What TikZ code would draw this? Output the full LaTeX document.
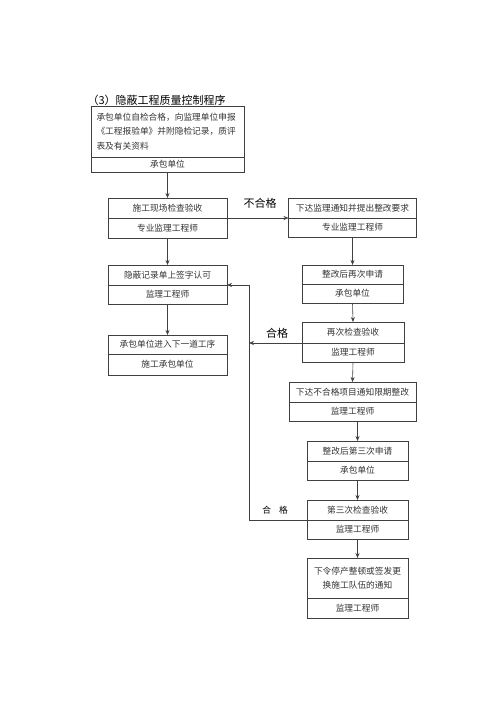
\documentclass[tikz,border=0pt]{standalone}
\usepackage{fontspec}
\newfontfamily\cjk{Noto Sans CJK SC}
\usetikzlibrary{arrows.meta,positioning}

\begin{document}
\begin{tikzpicture}[x=1pt,y=-1pt,
    box/.style={draw=black!75,line width=0.6pt,inner sep=0pt,outer sep=0pt,
                text=black!80,font=\cjk\fontsize{8.7}{10}\selectfont},
    flow/.style={draw=black!75,line width=0.6pt,-{Stealth[length=5pt,width=4pt]}},
    lbl/.style={font=\cjk\fontsize{11}{13}\selectfont}]
\useasboundingbox (0,0) rectangle (500,708);

\node[anchor=west,font=\cjk\fontsize{11}{13}\selectfont] (biaoti) at (84,100) {（3）隐蔽工程质量控制程序};

% left column
\node[box,minimum width=153pt,minimum height=51pt,text width=142pt,align=left,
      font=\cjk\fontsize{8.7}{14.5}\selectfont] (shenbao) at (167.5,131.5)
     {承包单位自检合格，向监理单位申报\\《工程报验单》并附隐检记录，质评\\表及有关资料};
\node[box,minimum width=153pt,minimum height=15pt,below=0pt of shenbao] (shenbao-b) {承包单位};

\node[box,minimum width=119pt,minimum height=20pt] (jianyan) at (167.5,208) {施工现场检查验收};
\node[box,minimum width=119pt,minimum height=20pt,below=0pt of jianyan] (jianyan-b) {专业监理工程师};

\node[box,minimum width=119pt,minimum height=20pt] (qianzi) at (167.5,275) {隐蔽记录单上签字认可};
\node[box,minimum width=119pt,minimum height=19pt,below=0pt of qianzi] (qianzi-b) {监理工程师};

\node[box,minimum width=119pt,minimum height=19pt] (jinru) at (167.5,344.5) {承包单位进入下一道工序};
\node[box,minimum width=119pt,minimum height=21pt,below=0pt of jinru] (jinru-b) {施工承包单位};

% right column
\node[box,minimum width=128pt,minimum height=20pt] (tongzhi) at (352.5,208) {下达监理通知并提出整改要求};
\node[box,minimum width=128pt,minimum height=19pt,below=0pt of tongzhi] (tongzhi-b) {专业监理工程师};

\node[box,minimum width=101pt,minimum height=19pt] (zaishen) at (352.5,274.5) {整改后再次申请};
\node[box,minimum width=101pt,minimum height=19pt,below=0pt of zaishen] (zaishen-b) {承包单位};

\node[box,minimum width=102pt,minimum height=21pt] (zaijian) at (353,332.5) {再次检查验收};
\node[box,minimum width=102pt,minimum height=19pt,below=0pt of zaijian] (zaijian-b) {监理工程师};

\node[box,minimum width=127pt,minimum height=20pt] (xianqi) at (352.5,392) {下达不合格项目通知限期整改};
\node[box,minimum width=127pt,minimum height=19pt,below=0pt of xianqi] (xianqi-b) {监理工程师};

\node[box,minimum width=101pt,minimum height=20pt] (sanshen) at (357.5,451) {整改后第三次申请};
\node[box,minimum width=101pt,minimum height=19pt,below=0pt of sanshen] (sanshen-b) {承包单位};

\node[box,minimum width=101pt,minimum height=20pt] (sanjian) at (357.5,510) {第三次检查验收};
\node[box,minimum width=101pt,minimum height=19pt,below=0pt of sanjian] (sanjian-b) {监理工程师};

\node[box,minimum width=101pt,minimum height=40pt,align=center,
      font=\cjk\fontsize{8.7}{14.5}\selectfont] (tingchan) at (357.5,578)
     {下令停产整顿或签发更\\换施工队伍的通知};
\node[box,minimum width=101pt,minimum height=20pt,below=0pt of tingchan] (tingchan-b) {监理工程师};

% connectors
\coordinate (zhe) at (249,520);
\draw[flow] (jianyan.north |- shenbao-b.south) -- (jianyan.north);
\draw[flow] (jianyan.south east) -- (tongzhi.south west);
\draw[flow] (jianyan-b.south) -- (qianzi.north);
\draw[flow] (qianzi-b.south) -- (jinru.north);
\draw[flow] (tongzhi-b.south) -- (zaishen.north);
\draw[flow] (zaishen-b.south) -- (zaijian.north);
\draw[flow] (zaijian.south west) -- (zaijian.south west -| zhe);
\draw[flow] (zaijian-b.south) -- (xianqi.north);
\draw[flow] (sanshen.north |- xianqi-b.south) -- (sanshen.north);
\draw[flow] (sanshen-b.south) -- (sanjian.north);
\draw[flow] (sanjian-b.south) -- (tingchan.north);
\draw[flow] (sanjian.south west) -- (zhe) |- (qianzi.south east);

\node[lbl] (buhege) at (260,203) {不合格};
\node[lbl] (hege) at (277,333) {合格};
\node[font=\cjk\fontsize{8.7}{10}\selectfont] (hege-san) at (275,510) {合\hspace{8pt}格};
\end{tikzpicture}
\end{document}
